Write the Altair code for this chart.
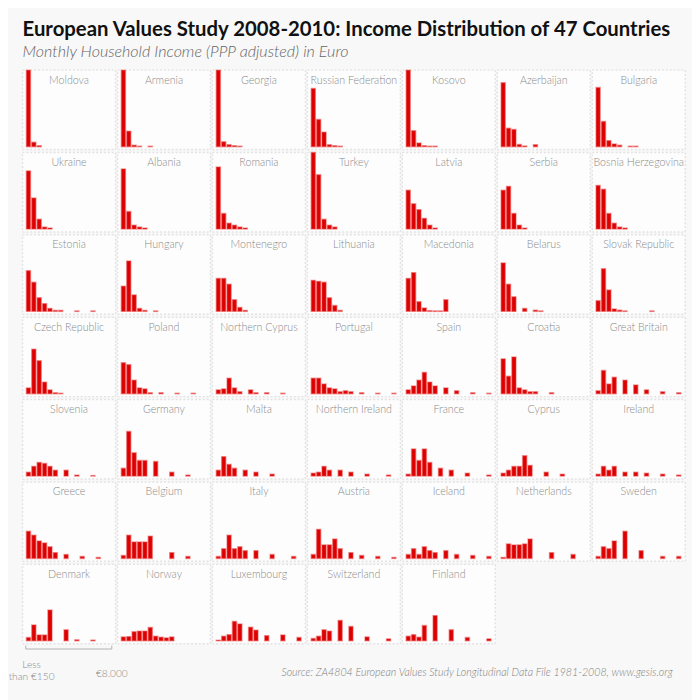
import altair as alt
import pandas as pd

title_text = "European Values Study 2008-2010: Income Distribution of 47 Countries"
subtitle_text = "Monthly Household Income (PPP adjusted) in Euro"
source_text = "Source: ZA4804 European Values Study Longitudinal Data File 1981-2008, www.gesis.org"

# 16 income bins, first "Less than €150", last "€8.000"
n_bins = 16
tick_bins = [0, 16]
tick_labels = [["Less", "than €150"], ["€8.000"]]

row1_countries = ["Moldova", "Armenia", "Georgia", "Russian Federation", "Kosovo", "Azerbaijan", "Bulgaria"]
row1_values = [
    [1900, 90, 20],
    [1700, 320, 30, 10, 0, 10],
    [1800, 100, 40, 20, 10],
    [1200, 560, 300, 40, 20, 10],
    [1750, 330, 75, 20, 10, 10],
    [1320, 380, 355, 45, 15, 0, 40],
    [1220, 520, 125, 55, 30, 0, 10, 10],
]
row2_countries = ["Ukraine", "Albania", "Romania", "Turkey", "Latvia", "Serbia", "Bosnia Herzegovina"]
row2_values = [
    [1200, 640, 200, 40, 20],
    [1240, 360, 80, 40, 20],
    [1280, 320, 120, 80, 40, 20],
    [1800, 1120, 200, 80, 40],
    [800, 520, 400, 220, 80, 20],
    [800, 880, 320, 80, 20],
    [900, 820, 320, 120, 40, 20],
]
row3_countries = ["Estonia", "Hungary", "Montenegro", "Lithuania", "Macedonia", "Belarus", "Slovak Republic"]
row3_values = [
    [840, 600, 280, 160, 60, 20, 20, 0, 0, 10, 0, 0, 10],
    [520, 1040, 340, 60, 20, 0, 10],
    [680, 680, 560, 240, 80, 20],
    [640, 620, 600, 280, 120, 20],
    [680, 800, 200, 70, 15, 10, 10, 240],
    [1000, 560, 300, 0, 60, 0, 25, 10],
    [220, 880, 440, 50, 25, 10, 0, 0, 0, 0, 10],
]
row4_countries = ["Czech Republic", "Poland", "Northern Cyprus", "Portugal", "Spain", "Croatia", "Great Britain"]
row4_values = [
    [120, 920, 680, 240, 80, 20, 10],
    [640, 600, 280, 120, 100, 20, 0, 20, 0, 0, 10, 0, 0, 10],
    [80, 100, 320, 120, 40, 0, 80, 20, 0, 20, 0, 0, 10],
    [320, 320, 200, 120, 100, 40, 60, 40, 0, 20, 0, 0, 10, 0, 0, 10],
    [80, 160, 280, 440, 240, 160, 0, 120, 0, 60, 0, 0, 20, 0, 0, 10],
    [720, 360, 760, 120, 80, 40, 40, 0, 0, 20],
    [60, 480, 200, 340, 0, 280, 0, 180, 0, 80, 0, 0, 40, 0, 0, 20],
]
row5_countries = ["Slovenia", "Germany", "Malta", "Northern Ireland", "France", "Cyprus", "Ireland"]
row5_values = [
    [80, 200, 280, 260, 200, 120, 0, 120, 0, 20, 0, 0, 10],
    [160, 920, 480, 320, 320, 0, 300, 0, 0, 80, 0, 0, 20],
    [120, 400, 240, 160, 0, 120, 0, 80, 0, 0, 40],
    [60, 80, 200, 120, 0, 120, 0, 80, 0, 0, 40, 0, 0, 0, 20],
    [40, 560, 320, 560, 280, 0, 160, 0, 120, 0, 0, 60, 0, 0, 0, 20],
    [60, 120, 200, 200, 420, 220, 0, 0, 80, 0, 0, 40],
    [40, 200, 120, 200, 0, 80, 0, 80, 0, 60, 0, 0, 40, 0, 0, 20],
]
row6_countries = ["Greece", "Belgium", "Italy", "Austria", "Iceland", "Netherlands", "Sweden"]
row6_values = [
    [560, 480, 360, 320, 240, 120, 0, 80, 0, 0, 40, 0, 0, 20],
    [60, 480, 340, 340, 340, 460, 0, 0, 0, 120, 0, 0, 40],
    [40, 200, 480, 200, 240, 160, 0, 160, 0, 0, 80, 0, 0, 0, 40],
    [80, 600, 280, 280, 400, 200, 0, 120, 0, 60, 0, 0, 40, 0, 0, 20],
    [80, 200, 80, 240, 160, 120, 0, 160, 0, 80, 0, 0, 60, 0, 0, 40],
    [20, 300, 280, 280, 300, 400, 0, 0, 0, 120, 0, 0, 0, 80],
    [40, 240, 200, 360, 0, 560, 0, 0, 160, 0, 0, 0, 40, 0, 0, 40],
]
row7_countries = ["Denmark", "Norway", "Luxembourg", "Switzerland", "Finland"]
row7_values = [
    [66, 326, 120, 120, 634, 0, 0, 226, 0, 20, 0, 0, 14],
    [80, 86, 186, 200, 200, 274, 94, 74, 60, 80],
    [14, 94, 126, 400, 346, 0, 280, 220, 0, 106, 0, 0, 120, 0, 0, 66],
    [46, 94, 226, 200, 0, 420, 0, 294, 0, 0, 80, 0, 0, 0, 40],
    [94, 126, 74, 314, 0, 520, 0, 0, 226, 0, 0, 66, 0, 0, 0, 40],
]

all_countries = (row1_countries + row2_countries + row3_countries + row4_countries
                 + row5_countries + row6_countries + row7_countries)
all_values = (row1_values + row2_values + row3_values + row4_values
              + row5_values + row6_values + row7_values)

rows = []
for c, vals in zip(all_countries, all_values):
    for b in range(n_bins):
        v = vals[b] if b < len(vals) else 0
        rows.append({"country": c, "bin": b, "count": v})
df = pd.DataFrame(rows)

PW, PH = 96, 82
x_scale = alt.Scale(domain=[-0.6, -0.6 + PW / 5.55], nice=False, zero=False)

bars = alt.Chart().mark_rect(
    fill="#dd0000", stroke="#e83a3a", strokeOpacity=0.45, strokeWidth=1.5
).encode(
    x=alt.X("x0:Q", scale=x_scale, axis=None),
    x2="x1:Q",
    y=alt.Y("count:Q", scale=alt.Scale(domain=[-60, 1580], nice=False, zero=False, clamp=True), axis=None),
    y2=alt.datum(0),
).transform_filter("datum.count > 0").transform_calculate(
    x0="datum.bin + 0.12", x1="datum.bin + 0.88"
)

names = alt.Chart().mark_text(
    font="Lato", fontWeight=300, fontSize=11, color="#8a8a8a", baseline="middle", align="center"
).encode(
    x=alt.value(PW / 2), y=alt.value(11), text="country:N"
).transform_filter("datum.bin == 0")

no_header = alt.Header(labels=False, labelExpr="''", labelFontSize=0, labelPadding=0, title=None)

panels = alt.layer(bars, names, data=df).properties(
    width=PW, height=PH,
    view=alt.ViewBackground(fill="#fdfdfd", stroke="#e2e2e2", strokeDash=[2, 2], strokeWidth=1.5),
).facet(
    facet=alt.Facet("country:N", sort=all_countries, title=None, header=no_header),
    columns=7, spacing=0,
)

bracket_df = pd.DataFrame({"start": [tick_bins[0]], "end": [tick_bins[-1]]})
ticks_df = pd.DataFrame({"bin": tick_bins, "label": tick_labels, "lines": [len(t) for t in tick_labels]})
src_df = pd.DataFrame({"t": [source_text]})

bottom_scale = alt.Scale(domain=[-0.6, -0.6 + PW * 7 / 5.55], nice=False, zero=False)
bracket = alt.Chart(bracket_df).mark_rule(color="#b0b0b0", strokeWidth=1).encode(
    x=alt.X("start:Q", scale=bottom_scale, axis=None), x2="end:Q", y=alt.value(3.5)
)
tick_marks = alt.Chart(ticks_df).mark_rule(color="#b0b0b0", strokeWidth=1).encode(
    x=alt.X("bin:Q", scale=bottom_scale, axis=None), y=alt.value(0), y2=alt.value(3.5)
)
tick_text_two = alt.Chart(ticks_df).mark_text(
    font="Lato", fontWeight=300, fontSize=10.5, color="#888888",
    baseline="middle", align="center", lineHeight=12, dx=6,
).encode(
    x=alt.X("bin:Q", scale=bottom_scale, axis=None), y=alt.value(20), text="label"
).transform_filter("datum.lines == 2")
tick_text_one = alt.Chart(ticks_df).mark_text(
    font="Lato", fontWeight=300, fontSize=10.5, color="#888888",
    baseline="middle", align="center",
).encode(
    x=alt.X("bin:Q", scale=bottom_scale, axis=None), y=alt.value(29), text="label"
).transform_filter("datum.lines == 1")
source = alt.Chart(src_df).mark_text(
    font="Lato", fontStyle="italic", fontWeight=300, fontSize=11, color="#808080",
    align="right", baseline="middle",
).encode(x=alt.value(PW * 7 - 1), y=alt.value(28), text="t:N")

bottom = alt.layer(bracket, tick_marks, tick_text_two, tick_text_one, source).properties(
    width=PW * 7, height=40,
    view=alt.ViewBackground(strokeWidth=0, fillOpacity=0),
)

chart = alt.vconcat(panels, bottom, spacing=0).properties(
    title=alt.TitleParams(
        text=title_text, subtitle=subtitle_text, anchor="start", frame="group",
        font="Lato", fontSize=21, fontWeight="bold", color="#111111",
        subtitleFont="Lato", subtitleFontSize=16.6, subtitleFontStyle="italic",
        subtitleFontWeight=300, subtitleColor="#666666", subtitlePadding=5, offset=8,
    ),
    background="#f8f8f8",
    padding={"left": 0, "top": 0, "right": 6, "bottom": 6},
).configure_view(strokeWidth=0).configure_header(
    labels=False, labelFontSize=0, labelPadding=0
).configure_facet(spacing=0)

chart.save("out.html", embed_options={"renderer": "svg", "actions": False})
